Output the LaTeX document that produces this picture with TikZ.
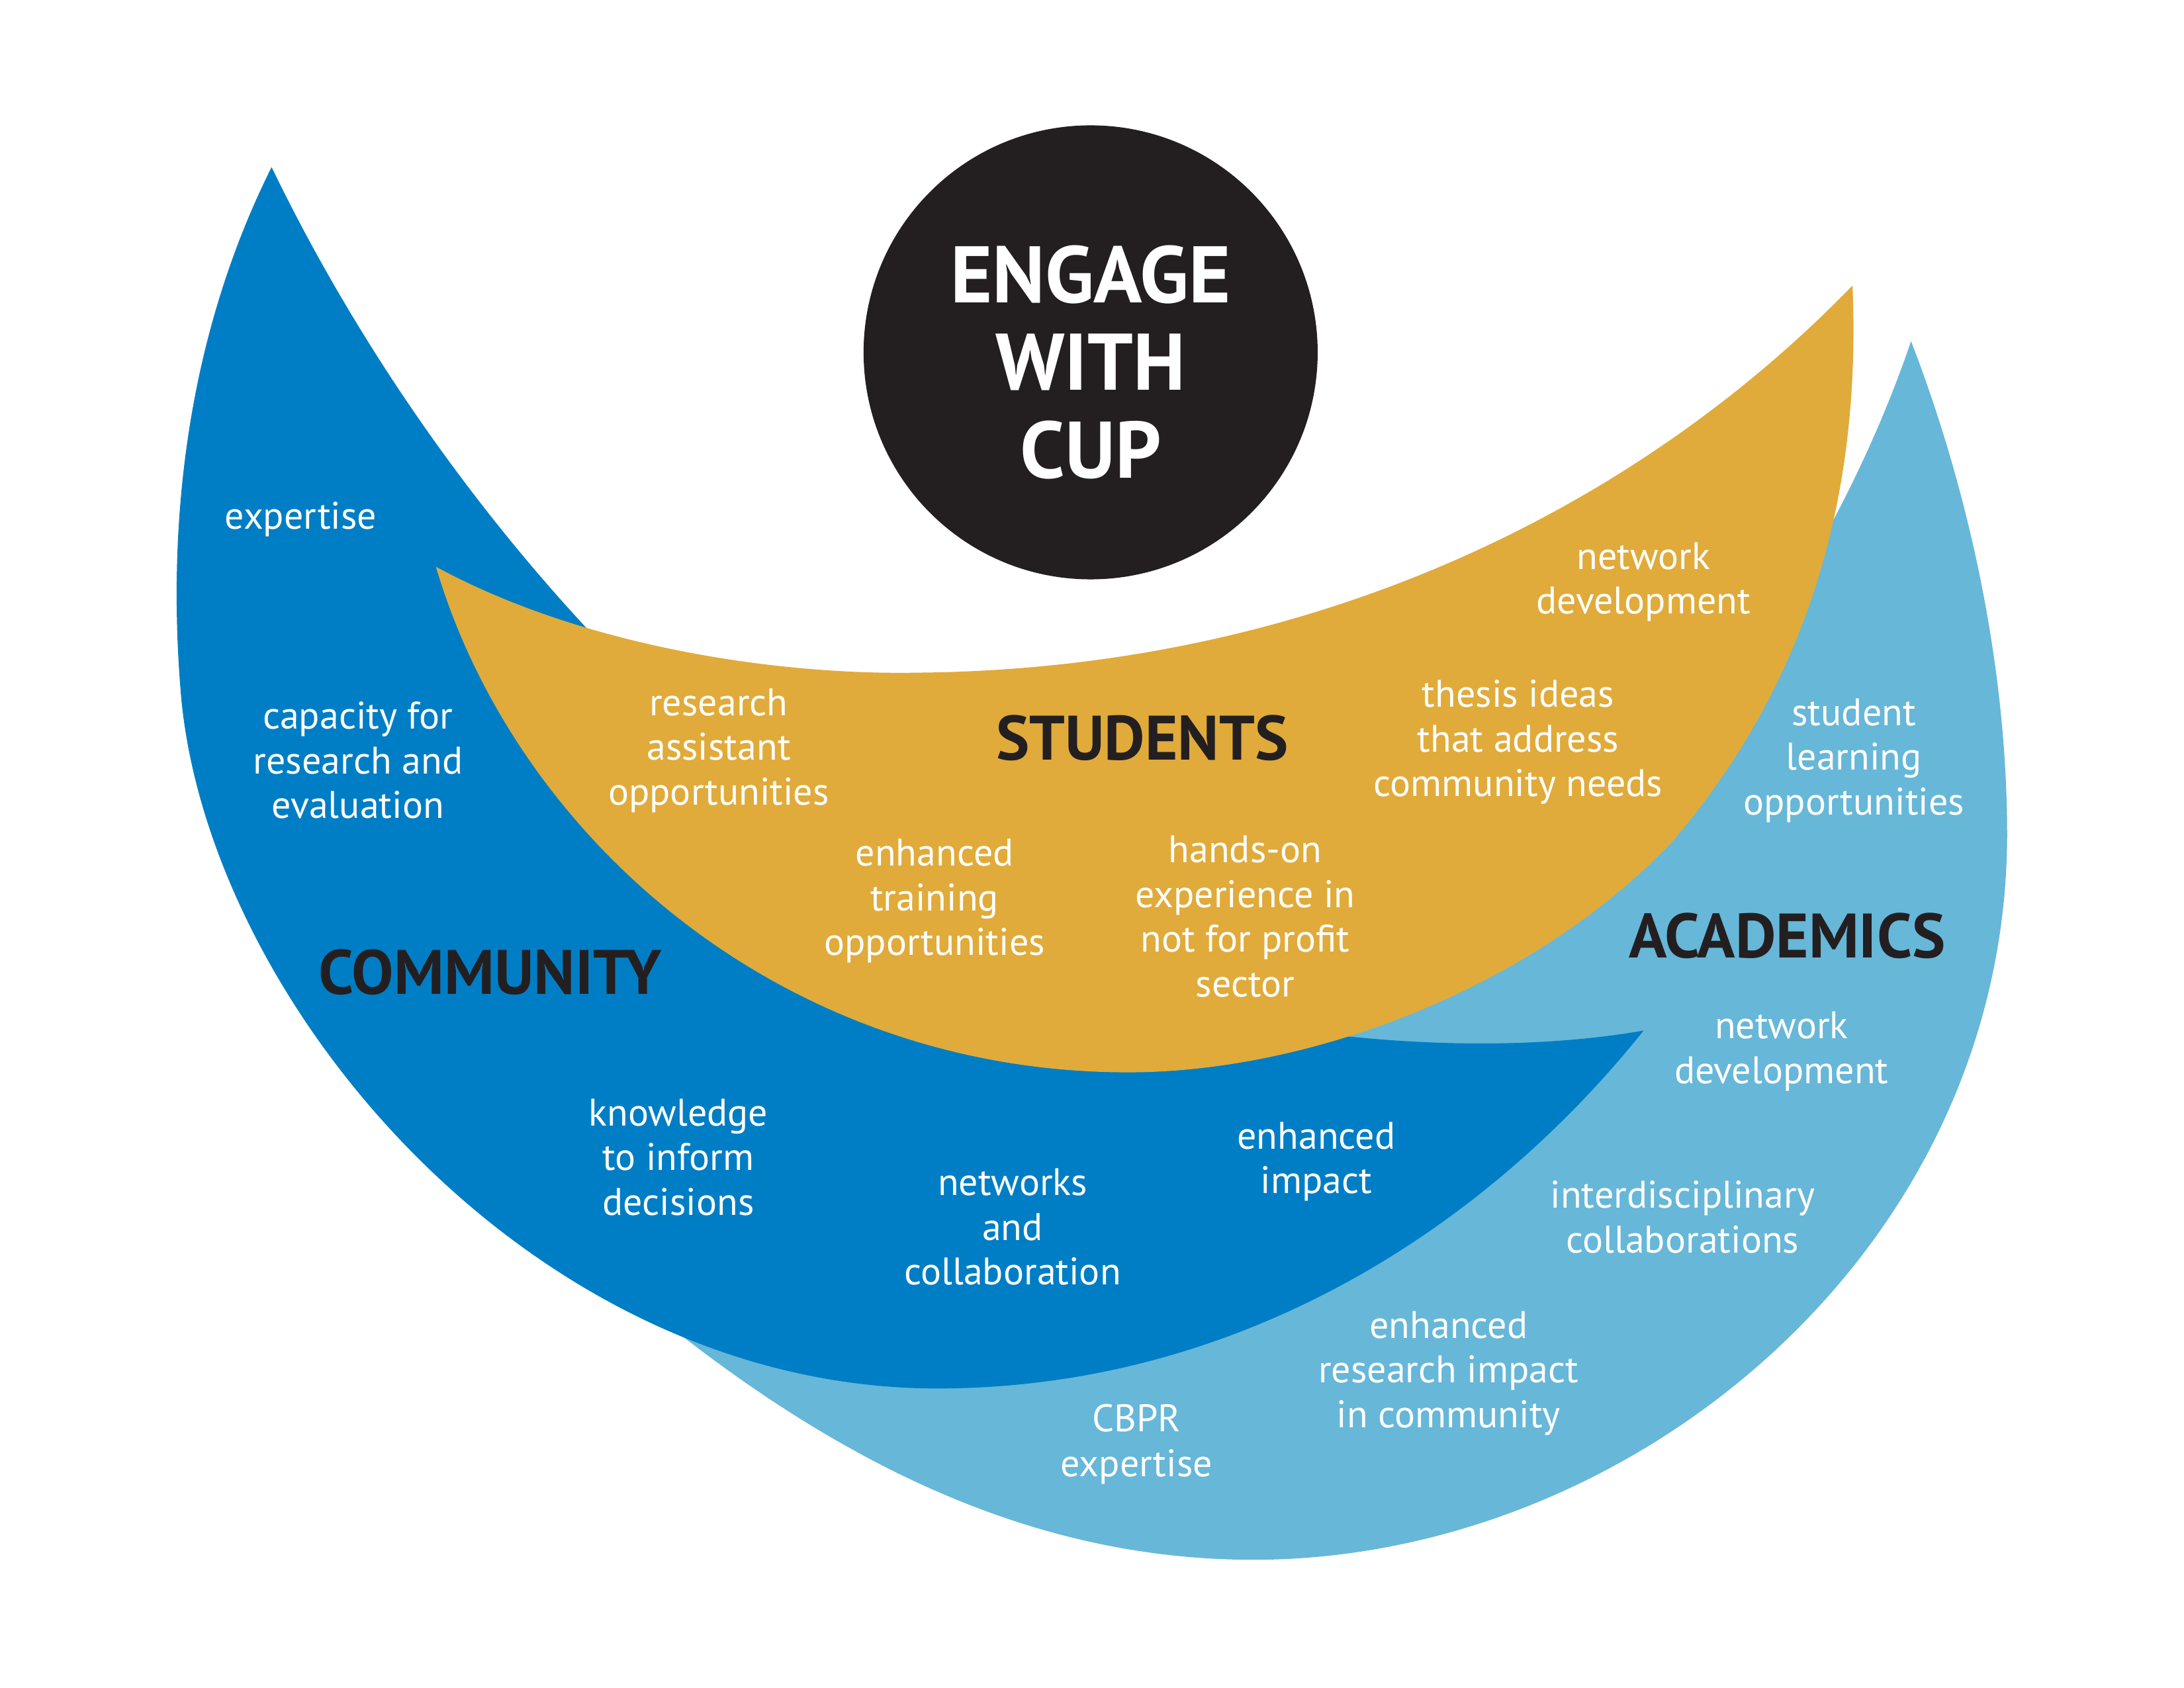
\documentclass[tikz,border=0pt]{standalone}
\usepackage{fontspec}
\setmainfont{PT Sans}
\usepackage{tikz}
\usetikzlibrary{positioning}
\definecolor{commblue}{RGB}{0,126,197}
\definecolor{acadblue}{RGB}{103,183,216}
\definecolor{studgold}{RGB}{224,171,58}
\definecolor{cupblack}{RGB}{35,31,32}
\tikzset{
  benefit/.style={text=white,align=center,inner sep=0pt,font=\fontsize{16.5}{19.2}\selectfont},
  group/.style={text=cupblack,inner sep=0pt,font=\fontsize{27}{32}\selectfont\bfseries},
}
\begin{document}
\begin{tikzpicture}[x=0.021046cm,y=-0.021046cm]
\useasboundingbox (0,0) rectangle (1568,1212);
% academics crescent (back)
\fill[acadblue] (1372,245) .. controls (1405,330) and (1441,460) .. (1441,600)
  .. controls (1440,900) and (1170,1120) .. (900,1120)
  .. controls (740,1120) and (590,1050) .. (430,910)
  -- (700,760) -- (1000,600) -- (1200,520) -- (1290,420)
  .. controls (1320,370) and (1350,310) .. (1372,245) -- cycle;
% community crescent
\fill[commblue] (195,120) .. controls (140,230) and (118,360) .. (130,500)
  .. controls (150,720) and (380,995) .. (670,997)
  .. controls (880,998) and (1060,890) .. (1180,740)
  .. controls (1100,754) and (1000,752) .. (900,735)
  .. controls (600,690) and (330,400) .. (195,120) -- cycle;
% students crescent
\fill[studgold] (313,407) .. controls (420,465) and (560,485) .. (660,483)
  .. controls (950,480) and (1180,360) .. (1330,205)
  .. controls (1337,370) and (1290,500) .. (1200,605)
  .. controls (1100,710) and (940,770) .. (810,770)
  .. controls (560,770) and (370,600) .. (313,407) -- cycle;
% centre disc
\fill[cupblack] (783,253) circle[radius=163];
\node[text=white,align=center,inner sep=0pt,font=\fontsize{34.5}{37.7}\selectfont\bfseries] (cup) at (783,260) {ENGAGE\\WITH\\CUP};

\node[group] (community) at (352,698) {COMMUNITY};
\node[group] (students) at (820,530) {STUDENTS};
\node[group] (academics) at (1283,672) {ACADEMICS};

\node[benefit] (expertise) at (216,373) {expertise};
\node[benefit] (capacity) at (257,546) {capacity for\\research and\\evaluation};
\node[benefit] (knowledge) at (487,831) {knowledge\\to inform\\decisions};
\node[benefit] (networks) at (727,881) {networks\\and\\collaboration};
\node[benefit] (impact) at (945,834) {enhanced\\impact};

\node[benefit] (assistant) at (516,539) {research\\assistant\\opportunities};
\node[benefit] (training) at (671,647) {enhanced\\training\\opportunities};
\node[benefit] (handson) at (894,658) {hands-on\\experience in\\not for profit\\sector};
\node[benefit] (thesis) at (1090,533) {thesis ideas\\that address\\community needs};
\node[benefit] (studnet) at (1180,418) {network\\development};

\node[benefit] (learning) at (1331,546) {student\\learning\\opportunities};
\node[benefit] (acadnet) at (1279,755) {network\\development};
\node[benefit] (interdisc) at (1208,874) {interdisciplinary\\collaborations};
\node[benefit] (research) at (1040,986) {enhanced\\research impact\\in community};
\node[benefit] (cbpr) at (816,1037) {CBPR\\expertise};
\end{tikzpicture}
\end{document}
